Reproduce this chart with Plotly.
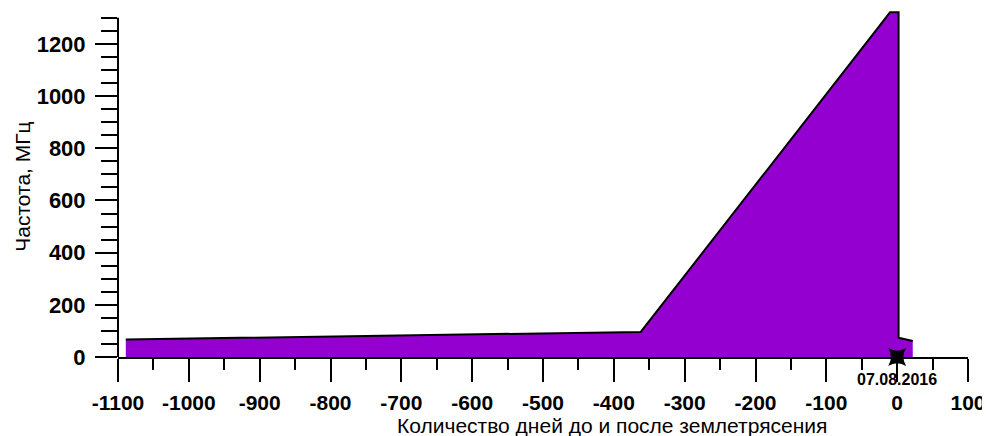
import plotly.graph_objects as go

# Outline of the filled area (days relative to earthquake, frequency MHz)
days = [-1089, -1089, -362, -10, 2, 2, 8, 22, 22]
freq = [0, 67, 96, 1321, 1321, 74, 70, 61, 0]

event_day = [0]
event_freq = [0]
event_label = "07.08.2016"

x_ticks = [-1100, -1000, -900, -800, -700, -600, -500, -400, -300, -200, -100, 0, 100]
y_ticks = [0, 200, 400, 600, 800, 1000, 1200]
y_axis_top = 1300

fill_color = "#9400D0"

fig = go.Figure()
fig.add_trace(go.Scatter(
    x=days, y=freq, mode="lines", fill="toself", fillcolor=fill_color,
    line=dict(width=0, color=fill_color), hoverinfo="skip", showlegend=False))
fig.add_trace(go.Scatter(
    x=days[1:-1], y=freq[1:-1], mode="lines",
    line=dict(width=2, color="black"), hoverinfo="skip", showlegend=False))
fig.add_trace(go.Scatter(
    x=event_day, y=event_freq, mode="markers",
    marker=dict(symbol="star-diamond", size=18, color="black", angle=45),
    cliponaxis=False, showlegend=False))

# y axis spine only up to y_axis_top
fig.add_shape(type="line", xref="paper", yref="y", x0=0, x1=0, y0=0, y1=y_axis_top,
              line=dict(color="black", width=2))

# page body has an 8px margin, so the figure is sized to 982x428
fig.update_layout(
    width=982, height=428,
    margin=dict(l=110, r=22, t=2, b=79, autoexpand=False),
    paper_bgcolor="white", plot_bgcolor="white",
    font=dict(family="Liberation Sans, Arial, sans-serif", color="black"),
    xaxis=dict(
        range=[-1100, 100], tickvals=x_ticks, ticktext=[str(v) for v in x_ticks],
        showgrid=False, zeroline=False, showline=True, linecolor="black", linewidth=2,
        ticks="outside", ticklen=23, tickwidth=2, tickcolor="black", automargin=False,
        minor=dict(dtick=50, tick0=0, ticks="outside", ticklen=11, tickwidth=2, tickcolor="black", showgrid=False),
        tickfont=dict(size=21, family="Liberation Sans, Arial, sans-serif", color="black", weight="bold"),
        ticklabelstandoff=3,
    ),
    yaxis=dict(
        range=[0, 1330], tickvals=y_ticks, ticktext=[str(v) for v in y_ticks],
        showgrid=False, zeroline=False, showline=False,
        ticks="outside", ticklen=22, tickwidth=2, tickcolor="black", automargin=False,
        minor=dict(dtick=50, tick0=0, ticks="outside", ticklen=16, tickwidth=2, tickcolor="black", showgrid=False),
        tickfont=dict(size=22, family="Liberation Sans, Arial, sans-serif", color="black", weight="bold"),
        ticklabelstandoff=5,
    ),
    annotations=[
        dict(text="Количество дней до и после землетрясения", xref="paper", yref="paper",
             x=0.581, y=-0.196, xanchor="center", yanchor="middle", showarrow=False,
             font=dict(size=21, color="black")),
        dict(text="Частота, МГц", xref="paper", yref="paper",
             x=-0.112, y=0.49, xanchor="center", yanchor="middle", textangle=-90, showarrow=False,
             font=dict(size=21, color="black")),
        dict(text=event_label, xref="x", yref="paper", x=event_day[0], y=-0.066,
             xanchor="center", yanchor="middle", showarrow=False,
             font=dict(size=16, color="black", weight="bold")),
    ],
)

fig.write_html("out.html")
